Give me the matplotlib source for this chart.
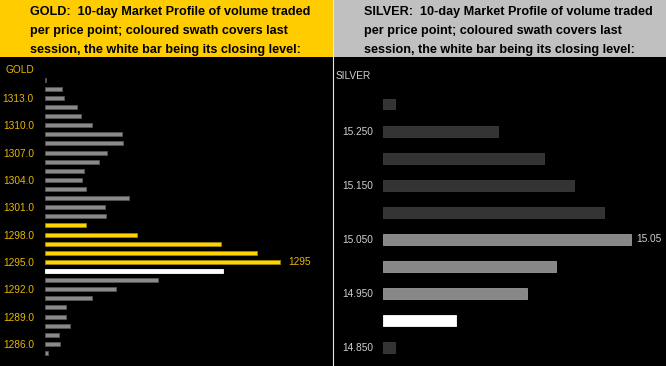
import matplotlib
matplotlib.use("Agg")
import matplotlib.pyplot as plt
from matplotlib.patches import Rectangle
from matplotlib.lines import Line2D

# gold: price points and volume
gold_prices = list(range(1315, 1284, -1))
gold_volume = [0.7, 16.7, 18.7, 32, 36, 47.3, 76.7, 78.3, 61.7, 53.7,
               38.7, 36.7, 41.3, 83.7, 59.7, 61, 40.7, 92, 176, 211.7,
               235, 178.3, 112.7, 71.3, 46.7, 21, 21, 25, 13.7, 15, 2.7]
gold_session = [1299, 1298, 1297, 1296, 1295]
gold_close = 1294
gold_ticks = [1313, 1310, 1307, 1304, 1301, 1298, 1295, 1292, 1289, 1286]

# silver
silver_prices = [15.30, 15.25, 15.20, 15.15, 15.10, 15.05, 15.00, 14.95, 14.90, 14.85]
silver_volume = [11.7, 115, 161, 191, 220.7, 248.3, 173.3, 143.7, 73.3, 11.7]
silver_session = [15.05, 15.00, 14.95]
silver_close = 14.90
silver_ticks = [15.25, 15.15, 15.05, 14.95, 14.85]

W, H = 666, 366
fig = plt.figure(figsize=(W / 100, H / 100), dpi=100, facecolor="black")

def fx(px):
    return px / W

def fy(py):
    return 1 - py / H

# header boxes
fig.patches.append(Rectangle((0, fy(57)), fx(333), 57 / H, transform=fig.transFigure,
                             facecolor="#ffcc00", edgecolor="none"))
fig.patches.append(Rectangle((fx(334), fy(57)), fx(332), 57 / H, transform=fig.transFigure,
                             facecolor="#c0c0c0", edgecolor="none"))
fig.lines.append(Line2D([fx(333.5), fx(333.5)], [0, 1], transform=fig.transFigure,
                        color="#e8e8e8", lw=0.8))

hdr = ["  10-day Market Profile of volume traded",
       "per price point; coloured swath covers last",
       "session, the white bar being its closing level:"]
for name, x0 in [("GOLD:", 30), ("SILVER:", 364)]:
    lines = [name + hdr[0]] + hdr[1:]
    for i, s in enumerate(lines):
        fig.text(fx(x0), fy(11.5 + 19.3 * i), s, fontsize=9.1, fontweight="bold",
                 family="Liberation Sans", color="black", va="center", ha="left")

gold_col = "#e6b800"
lab_font = "Liberation Sans"

# gold panel
ax = fig.add_axes([fx(45), 0, fx(331 - 45), 1 - 57 / H])
ax.set_facecolor("black")
fc, ec = [], []
for p in gold_prices:
    if p == gold_close:
        fc.append("white"); ec.append("white")
    elif p in gold_session:
        fc.append("#ffd400"); ec.append("#9c8500")
    else:
        fc.append("#8a8a8a"); ec.append("#555555")
ax.barh(gold_prices, gold_volume, height=0.44, color=fc, edgecolor=ec, linewidth=0.6)
ax.set_xlim(0, 286)
ax.set_ylim(1283.57, 1317.49)
ax.set_yticks(gold_ticks)
ax.set_yticklabels([f"{t:.1f}" for t in gold_ticks], family=lab_font, fontsize=7.3, color=gold_col)
ax.tick_params(axis="y", length=0, pad=8)
ax.set_xticks([])
for s in ax.spines.values():
    s.set_visible(False)
ax.text(243, 1295, "1295", family=lab_font, fontsize=7.3, color=gold_col, va="center", ha="left")
fig.text(fx(6), fy(70), "GOLD", family=lab_font, fontsize=7.3, color=gold_col, va="center")

# silver panel
ax2 = fig.add_axes([fx(383), 0, fx(W - 383), 1 - 57 / H])
ax2.set_facecolor("black")
fc, ec = [], []
for p in silver_prices:
    if abs(p - silver_close) < 1e-9:
        fc.append("white"); ec.append("white")
    elif any(abs(p - q) < 1e-9 for q in silver_session):
        fc.append("#878787"); ec.append("#9a9a9a")
    else:
        fc.append("#333333"); ec.append("#3c3c3c")
ax2.barh(silver_prices, silver_volume, height=0.0203, color=fc, edgecolor=ec, linewidth=0.6)
ax2.set_xlim(0, W - 383)
ax2.set_ylim(14.81535, 15.38694)
ax2.set_yticks(silver_ticks)
ax2.set_yticklabels([f"{t:.3f}" for t in silver_ticks], family=lab_font,
                    fontsize=7.3, color="#d0d0d0")
ax2.tick_params(axis="y", length=0, pad=7.2)
ax2.set_xticks([])
for s in ax2.spines.values():
    s.set_visible(False)
ax2.text(253, 15.05, "15.05", family=lab_font, fontsize=7.3, color="#d0d0d0",
         va="center", ha="left")
fig.text(fx(336), fy(76), "SILVER", family=lab_font, fontsize=7.3, color="#d0d0d0",
         va="center")

fig.savefig("out.png", dpi=100, facecolor="black")
